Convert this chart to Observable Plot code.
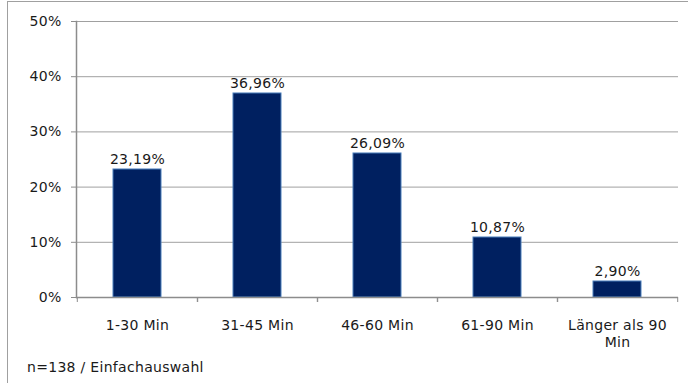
<!DOCTYPE html>
<html><head><meta charset="utf-8">
<script src="https://cdn.jsdelivr.net/npm/d3@7"></script>
<script src="https://cdn.jsdelivr.net/npm/@observablehq/plot@0.6"></script>
<style>
body{margin:0;background:#fff;}
#wrap{position:relative;width:688px;height:383px;overflow:hidden;font-family:"DejaVu Sans",sans-serif;}
#chart{position:absolute;left:0;top:0;}
#border{position:absolute;left:7px;top:1px;width:720px;height:420px;border:1px solid #a0a0a0;box-sizing:border-box;pointer-events:none;}
#caption{position:absolute;left:27px;top:360px;font-size:14px;line-height:14px;letter-spacing:0.3px;color:#1a1a1a;white-space:nowrap;}
</style></head>
<body><div id="wrap"><div id="chart"></div><div id="border"></div><div id="caption"></div></div>
<script>
const categories = ["1-30 Min", "31-45 Min", "46-60 Min", "61-90 Min", "Länger als 90 Min"];
const tickLabels = ["1-30 Min", "31-45 Min", "46-60 Min", "61-90 Min", "Länger als 90\nMin"];
const values = [23.19, 36.96, 26.09, 10.87, 2.90];
const valueLabels = ["23,19%", "36,96%", "26,09%", "10,87%", "2,90%"];
const yTicks = [0, 10, 20, 30, 40, 50];
const yTickLabels = ["0%", "10%", "20%", "30%", "40%", "50%"];
const captionText = "n=138 / Einfachauswahl";

document.getElementById("caption").textContent = captionText;

const W = 688, H = 383, ml = 76, mr = 10, mt = 21, mb = 86;
const step = (W - ml - mr) / categories.length;
const data = categories.map((c, i) => ({cat: c, v: values[i], label: valueLabels[i]}));

const plot = Plot.plot({
  width: W, height: H,
  marginLeft: ml, marginRight: mr, marginTop: mt, marginBottom: mb,
  style: {fontFamily: '"DejaVu Sans", sans-serif', fontSize: "14px", color: "#1a1a1a", letterSpacing: "0.3px", background: "transparent", overflow: "visible"},
  x: {domain: categories, paddingInner: 0.6, paddingOuter: 0.3, label: null},
  y: {domain: [0, 50], label: null},
  marks: [
    Plot.ruleY(yTicks.filter(d => d > 0), {stroke: "#a0a0a0", strokeWidth: 1}),
    Plot.barY(data, {x: "cat", y: "v", fill: "#002060", stroke: "#4a7ebb", strokeWidth: 1}),
    Plot.ruleY([0], {stroke: "#8c8c8c", strokeWidth: 1.5}),
    Plot.frame({anchor: "left", stroke: "#8c8c8c", strokeWidth: 1.5}),
    Plot.axisY({ticks: yTicks, tickFormat: d => yTickLabels[yTicks.indexOf(d)], tickSize: 5, tickPadding: 10, stroke: "#8c8c8c", strokeOpacity: 1, fill: "#1a1a1a", label: null}),
    Plot.axisX({tickSize: 0, tickPadding: 21, tickFormat: d => tickLabels[categories.indexOf(d)], lineHeight: 1.2, fill: "#1a1a1a", label: null}),
    Plot.axisX({tickSize: 5, tickFormat: () => "", dx: step / 2, stroke: "#8c8c8c", strokeOpacity: 1, label: null}),
    Plot.axisX({tickSize: 5, tickFormat: () => "", dx: -step / 2, stroke: "#8c8c8c", strokeOpacity: 1, label: null}),
    Plot.text(data, {x: "cat", y: "v", text: "label", dy: -10, fill: "#1a1a1a"})
  ]
});
document.getElementById("chart").appendChild(plot);
</script>
</body></html>
